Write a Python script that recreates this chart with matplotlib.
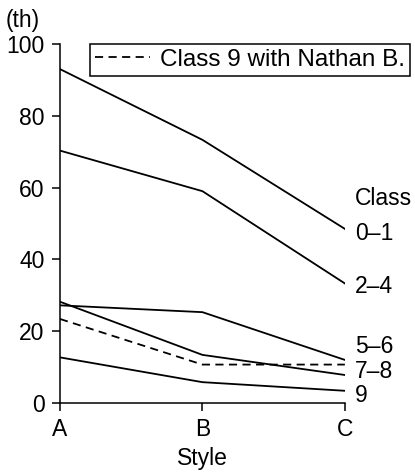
import matplotlib
matplotlib.use("Agg")
import matplotlib.pyplot as plt

plt.rcParams["font.family"] = ["Liberation Sans", "DejaVu Sans"]

styles = ["A", "B", "C"]
class_0_1 = [93.0, 73.3, 48.5]
class_2_4 = [70.3, 59.0, 33.3]
class_5_6 = [27.2, 25.3, 12.0]
class_7_8 = [28.2, 13.4, 7.8]
class_9 = [12.7, 5.8, 3.4]
class_9_nathan = [23.4, 10.7, 10.7]

end_labels = ["Class", "0\u20131", "2\u20134", "5\u20136", "7\u20138", "9"]
end_label_base = [55.1, 45.4, 30.6, 13.9, 7.0, 0.3]

yticks = [0, 20, 40, 60, 80, 100]
FS = 16.5

fig = plt.figure(figsize=(4.15, 4.75), dpi=100)
ax = fig.add_axes([0.1446, 0.1516, 0.6864, 0.7558])

x = range(len(styles))
for ys in (class_0_1, class_2_4, class_5_6, class_7_8, class_9):
    ax.plot(x, ys, color="black", lw=1.3, solid_joinstyle="miter")
dash, = ax.plot(x, class_9_nathan, color="black", lw=1.3,
                linestyle=(0, (4.5, 3)), label="Class 9 with Nathan B.")

# class names at the right-hand end of each line
for txt, yv in zip(end_labels, end_label_base):
    ax.text(2.072, yv, txt, fontsize=FS, va="baseline", ha="left", clip_on=False)

ax.set_xlim(0, 2)
ax.set_ylim(0, 100)
ax.set_xticks(list(x))
ax.set_xticklabels(styles)
ax.set_yticks(yticks)
ax.tick_params(direction="out", length=6, width=1.1, labelsize=FS, pad=5)
ax.set_xlabel("Style", fontsize=FS, labelpad=4)
for s in ("top", "right"):
    ax.spines[s].set_visible(False)
for s in ("left", "bottom"):
    ax.spines[s].set_linewidth(1.1)

fig.text(0.014, 1 - 20.5 / 475, "(th)", fontsize=FS, va="center", ha="left")

leg = ax.legend(handles=[dash], loc="upper right", fontsize=17.5,
                bbox_to_anchor=(410 / 415, 1 - 44 / 475),
                bbox_transform=fig.transFigure, borderaxespad=0,
                fancybox=False, framealpha=1, handlelength=2.3,
                handletextpad=0.4, borderpad=0.2)
leg.get_frame().set_edgecolor("black")
leg.get_frame().set_linewidth(1.1)

fig.savefig("out.png", dpi=100)
